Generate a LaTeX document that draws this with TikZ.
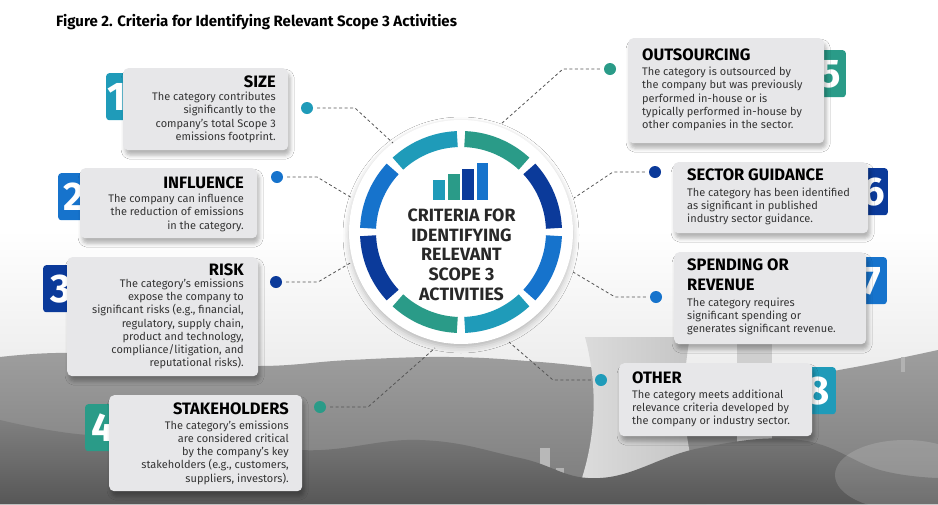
\documentclass[tikz,border=0pt]{standalone}
\usepackage{fontspec}
\setmainfont{Fira Sans}
\usepackage{xcolor}
\definecolor{cyanteal}{RGB}{31,155,185}
\definecolor{tealgreen}{RGB}{42,155,136}
\definecolor{darkblue}{RGB}{11,58,154}
\definecolor{midblue}{RGB}{22,115,204}
\definecolor{boxgrey}{RGB}{231,231,233}
\definecolor{textgrey}{RGB}{52,52,52}
\definecolor{hubgrey}{RGB}{40,40,40}
\definecolor{leadgrey}{RGB}{85,85,85}
\usetikzlibrary{shadows.blur}
\tikzset{
    critbox/.style = {fill=boxgrey, rounded corners=5pt, inner sep=0pt, anchor=north west,
        blur shadow={shadow xshift=2pt, shadow yshift=-5pt, shadow blur radius=4pt, shadow opacity=30}},
    numtab/.style = {rounded corners=3pt, inner sep=0pt, minimum width=30pt, minimum height=47pt},
    numtxt/.style = {text=white, inner sep=0pt, font=\fontsize{40}{40}\selectfont\bfseries},
    crithead/.style = {inner sep=0pt, text=black, font=\fontsize{16.5}{19.3}\selectfont\bfseries},
    critbody/.style = {inner sep=0pt, text=textgrey, font=\fontsize{11}{13.2}\selectfont},
    leader/.style = {draw=leadgrey, line width=0.8pt, dash pattern=on 3pt off 2.5pt, shorten <=4pt},
    critdot/.style = {circle, inner sep=0pt, minimum size=12pt}
}

\begin{document}
\begin{tikzpicture}[line cap=butt, line join=round, x=1pt, y=-1pt]
    \useasboundingbox (0,0) rectangle (938,504);

    % photo behind
    \fill[white] (0,0) rectangle (938,504);
    \shade[top color=white, bottom color=black!14] (0,230) rectangle (938,504);
    \shade[top color=black!38, bottom color=black!52] plot[smooth, tension=0.7] coordinates {(0,357) (70,353) (160,361) (260,366) (350,360) (450,357) (540,362) (620,370) (700,374) (780,378) (850,368) (938,350)} -- (938,504) -- (0,504) -- cycle;
    \shade[left color=black!13, right color=black!24] (585,337) .. controls (602,400) and (592,460) .. (572,504) -- (706,504) .. controls (686,460) and (678,400) .. (690,337) -- cycle;
    \fill[black!19] (737,343) rectangle (772,480);
    \fill[black!30] (901,357) rectangle (905,372);
    \fill[black!28] (540,448) rectangle (550,504);
    \fill[black!30] (556,468) rectangle (564,504);
    \shade[top color=black!50, bottom color=black!66] plot[smooth, tension=0.7] coordinates {(0,420) (90,435) (180,428) (300,450) (420,440) (520,458) (600,478) (700,448) (800,440) (880,470) (938,478)} -- (938,504) -- (0,504) -- cycle;
    \fill[white, opacity=0.15] (905,475) ellipse (70 and 35);

    \node[anchor=base west, inner sep=0pt, font=\fontsize{15}{18}\selectfont\bfseries] (figtitle) at (56,26) {Figure 2. Criteria for Identifying Relevant Scope 3 Activities};

    % hub
    \node[circle, fill=white, minimum size=224pt, inner sep=0pt,
        blur shadow={shadow xshift=0pt, shadow yshift=-3pt, shadow blur radius=6pt, shadow opacity=25}] (hub) at (461,232) {};
    \begin{scope}[shift={(hub.center)}, x=1pt, y=1pt]
        \foreach \a/\c in {90/tealgreen, 45/darkblue, 0/midblue, -45/cyanteal, -90/tealgreen, -135/darkblue, -180/midblue, -225/cyanteal}
            \draw[\c, line width=16pt] (\a-2.3:93) arc[start angle=\a-2.3, end angle=\a-42.7, radius=93];
    \end{scope}
    \foreach \x/\h/\c in {433.3/20/cyanteal, 448.3/26/tealgreen, 462.3/31/darkblue, 476.7/36.7/midblue}
        \fill[\c] (\x,200) rectangle ++(11.2,-\h);
    \node[align=center, anchor=base, inner sep=0pt, text=hubgrey, font=\fontsize{17.8}{19.6}\selectfont\bfseries] (hubtitle) at (461.5,300) {CRITERIA FOR\\IDENTIFYING\\RELEVANT\\SCOPE 3\\ACTIVITIES};

    % 1
    \node[numtab, fill=cyanteal, anchor=north west] (tab1) at (106,73) {};
    \node[numtxt] (num1) at (117,97) {1};
    \node[critbox, minimum width=165pt, minimum height=82pt] (box1) at (123,68) {};
    \node[crithead, anchor=base east] (head1) at (276,87) {SIZE};
    \node[critbody, align=right, anchor=base east] (body1) at (276,140.3) {The category contributes\\significantly to the\\company’s total Scope 3\\emissions footprint.};
    \node[critdot, fill=cyanteal] (dot1) at (307,108) {};
    \coordinate (bend1) at (355,108);
    \coordinate (end1) at (393,143);
    \draw[leader] (dot1) -- (bend1) -- (end1);

    % 2
    \node[numtab, fill=midblue, anchor=north west] (tab2) at (58,173) {};
    \node[numtxt] (num2) at (74,197) {2};
    \node[critbox, minimum width=177pt, minimum height=70pt] (box2) at (80,168) {};
    \node[crithead, anchor=base east] (head2) at (244,188) {INFLUENCE};
    \node[critbody, align=right, anchor=base east] (body2) at (244,229) {The company can influence\\the reduction of emissions\\in the category.};
    \node[critdot, fill=midblue] (dot2) at (277,177) {};
    \coordinate (bend2) at (317,177);
    \coordinate (end2) at (352,198);
    \draw[leader] (dot2) -- (bend2) -- (end2);

    % 3
    \node[numtab, fill=darkblue, anchor=north west] (tab3) at (43,265) {};
    \node[numtxt] (num3) at (61,289) {3};
    \node[critbox, minimum width=191pt, minimum height=119pt] (box3) at (67,257) {};
    \node[crithead, anchor=base east] (head3) at (244,275) {RISK};
    \node[critbody, align=right, anchor=base east] (body3) at (244,366.6) {The category’s emissions\\expose the company to\\significant risks (e.g., financial,\\regulatory, supply chain,\\product and technology,\\compliance/litigation, and\\reputational risks).};
    \node[critdot, fill=darkblue] (dot3) at (276,282) {};
    \coordinate (bend3) at (318,282);
    \coordinate (end3) at (352,262);
    \draw[leader] (dot3) -- (bend3) -- (end3);

    % 4
    \node[numtab, fill=tealgreen, anchor=north west] (tab4) at (85,404) {};
    \node[numtxt] (num4) at (103,428) {4};
    \node[critbox, minimum width=193pt, minimum height=96pt] (box4) at (109,395) {};
    \node[crithead, anchor=base east] (head4) at (289,414.3) {STAKEHOLDERS};
    \node[critbody, align=right, anchor=base east] (body4) at (289,482) {The category’s emissions\\are considered critical\\by the company’s key\\stakeholders (e.g., customers,\\suppliers, investors).};
    \node[critdot, fill=tealgreen] (dot4) at (320,407) {};
    \coordinate (bend4) at (368,407);
    \coordinate (end4) at (435,348);
    \draw[leader] (dot4) -- (bend4) -- (end4);

    % 5
    \node[numtab, fill=tealgreen, anchor=north east] (tab5) at (846,50) {};
    \node[numtxt] (num5) at (830,74) {5};
    \node[critbox, minimum width=196pt, minimum height=105pt] (box5) at (628,38) {};
    \node[crithead, anchor=base west] (head5) at (642,60.7) {OUTSOURCING};
    \node[critbody, align=left, anchor=base west] (body5) at (642,128.5) {The category is outsourced by\\the company but was previously\\performed in-house or is\\typically performed in-house by\\other companies in the sector.};
    \node[critdot, fill=tealgreen] (dot5) at (610,69) {};
    \coordinate (bend5) at (563,69);
    \coordinate (end5) at (501,124);
    \draw[leader] (dot5) -- (bend5) -- (end5);

    % 6
    \node[numtab, fill=darkblue, anchor=north east] (tab6) at (888,168) {};
    \node[numtxt] (num6) at (874,192) {6};
    \node[critbox, minimum width=195pt, minimum height=71pt] (box6) at (673,162) {};
    \node[crithead, anchor=base west] (head6) at (687,180) {SECTOR GUIDANCE};
    \node[critbody, align=left, anchor=base west] (body6) at (687,222.6) {The category has been identified\\as significant in published\\industry sector guidance.};
    \node[critdot, fill=darkblue] (dot6) at (655,172) {};
    \coordinate (bend6) at (613,172);
    \coordinate (end6) at (574,198);
    \draw[leader] (dot6) -- (bend6) -- (end6);

    % 7
    \node[numtab, fill=midblue, anchor=north east] (tab7) at (887,257) {};
    \node[numtxt] (num7) at (872,281) {7};
    \node[critbox, minimum width=192pt, minimum height=92pt] (box7) at (674,252) {};
    \node[crithead, align=left, anchor=base west] (head7) at (687,290) {SPENDING OR\\REVENUE};
    \node[critbody, align=left, anchor=base west] (body7) at (687,332.6) {The category requires\\significant spending or\\generates significant revenue.};
    \node[critdot, fill=midblue] (dot7) at (656,297) {};
    \coordinate (bend7) at (615,297);
    \coordinate (end7) at (573,272);
    \draw[leader] (dot7) -- (bend7) -- (end7);

    % 8
    \node[numtab, fill=cyanteal, anchor=north east] (tab8) at (836,367) {};
    \node[numtxt] (num8) at (818,391) {8};
    \node[critbox, minimum width=193pt, minimum height=73pt] (box8) at (619,363) {};
    \node[crithead, anchor=base west] (head8) at (632,383.3) {OTHER};
    \node[critbody, align=left, anchor=base west] (body8) at (632,424.8) {The category meets additional\\relevance criteria developed by\\the company or industry sector.};
    \node[critdot, fill=cyanteal] (dot8) at (601,380) {};
    \coordinate (bend8) at (553,380);
    \coordinate (end8) at (509,342);
    \draw[leader] (dot8) -- (bend8) -- (end8);
\end{tikzpicture}
\end{document}
